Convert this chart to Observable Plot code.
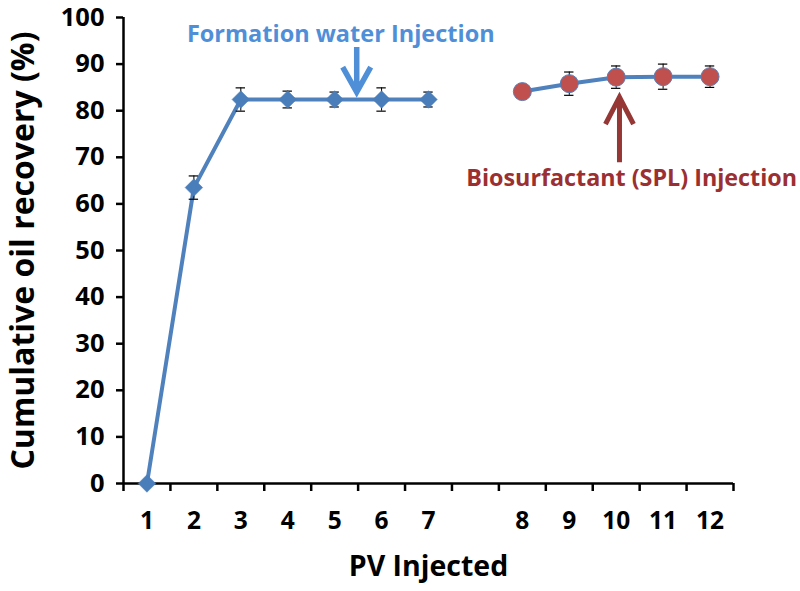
<!DOCTYPE html>
<html>
<head>
<meta charset="utf-8">
<script src="https://cdn.jsdelivr.net/npm/d3@7"></script>
<script src="https://cdn.jsdelivr.net/npm/@observablehq/plot@0.6"></script>
<style>
  html, body { margin: 0; padding: 0; background: #fff; }
  #chart { width: 800px; height: 591px; }
</style>
</head>
<body>
<div id="chart"></div>
<script>
// Category slots on the x axis (blank slot separates the two injection stages)
const xLabels = ["1", "2", "3", "4", "5", "6", "7", "", "8", "9", "10", "11", "12"];
// Pore volumes injected
const pv = [1, 2, 3, 4, 5, 6, 7, 8, 9, 10, 11, 12];
// Cumulative oil recovery (%)
const recovery = [0, 63.5, 82.4, 82.4, 82.4, 82.4, 82.4, 84.1, 85.8, 87.2, 87.3, 87.3];
// Error (± %)
const errors = [0, 2.5, 2.5, 1.8, 1.6, 2.5, 1.6, 0, 2.5, 2.4, 2.7, 2.3];
// Injection stage of each point
const stage = ["water", "water", "water", "water", "water", "water", "water", "SPL", "SPL", "SPL", "SPL", "SPL"];
const yTicks = [0, 10, 20, 30, 40, 50, 60, 70, 80, 90, 100];

const xTitle = "PV Injected";
const yTitle = "Cumulative oil recovery (%)";
const waterLabel = "Formation water Injection";
const splLabel = "Biosurfactant (SPL) Injection";
// annotation anchors in data units (slot, %)
const waterNote = {x: 5.13, y: 96.4, arrowX: 5.47, arrowTip: 84.0};
const splNote = {x: 11.33, y: 65.4, arrowX: 11.07, arrowTip: 82.9};

const data = pv.map((p, i) => ({
  slot: xLabels.indexOf(String(p)) + 1,
  y: recovery[i],
  err: errors[i],
  stage: stage[i]
}));
const withErr = data.filter(d => d.err > 0);
const slots = xLabels.map((l, i) => i + 1).filter(s => xLabels[s - 1] !== "");
const bounds = d3.range(0.5, xLabels.length + 1, 1);

const blueLine = "#4F81BD";
const blueText = "#4F8FD8";
const redText = "#9B2F31";

function chevron(back, half) {
  return {
    draw(context, l) {
      context.moveTo(0, 0);
      context.lineTo(0, -l + 2);
      context.moveTo(-half, -l + back);
      context.lineTo(0, -l);
      context.lineTo(half, -l + back);
    }
  };
}

const chart = Plot.plot({
  width: 800,
  height: 591,
  marginLeft: 123,
  marginRight: 67,
  marginTop: 17,
  marginBottom: 108,
  style: {fontFamily: "'Open Sans', Lato, sans-serif", fontWeight: "bold", fontSize: "25px", color: "#000", background: "#fff"},
  x: {type: "linear", domain: [0.5, xLabels.length + 0.5]},
  y: {domain: [0, 100]},
  marks: [
    Plot.axisY({ticks: yTicks, tickSize: 7, tickPadding: 12, strokeWidth: 2.5, label: null, fontSize: 25.5}),
    Plot.axisX({ticks: bounds, tickFormat: () => "", tickSize: 8, strokeWidth: 2.5, label: null}),
    Plot.axisX({ticks: slots, tickFormat: s => xLabels[s - 1], tickSize: 0, tickPadding: 28, label: null, fontSize: 24.5}),
    Plot.ruleX([0.5], {stroke: "#000", strokeWidth: 2.5}),
    Plot.ruleY([0], {stroke: "#000", strokeWidth: 2.5}),
    Plot.line(data, {x: "slot", y: "y", z: "stage", stroke: blueLine, strokeWidth: 4}),
    Plot.ruleX(withErr, {x: "slot", y1: d => d.y - d.err, y2: d => d.y + d.err, stroke: "#000", strokeWidth: 1}),
    Plot.ruleY(withErr, {y: d => d.y - d.err, x1: d => d.slot - 0.1, x2: d => d.slot + 0.1, stroke: "#000", strokeWidth: 1.2}),
    Plot.ruleY(withErr, {y: d => d.y + d.err, x1: d => d.slot - 0.1, x2: d => d.slot + 0.1, stroke: "#000", strokeWidth: 1.2}),
    Plot.dot(data.filter(d => d.stage === "water"), {x: "slot", y: "y", symbol: "square", rotate: 45, r: 7, fill: "#4A7EBB", stroke: "#4A7EBB", strokeWidth: 0.5}),
    Plot.dot(data.filter(d => d.stage === "SPL"), {x: "slot", y: "y", r: 9, fill: "#C0504D", stroke: "#5B7DB5", strokeWidth: 1}),
    Plot.text([waterLabel], {x: waterNote.x, y: waterNote.y, fill: blueText, fontSize: 23.5, fontWeight: "bold"}),
    Plot.vector([waterNote], {x: "arrowX", y: "arrowTip", length: 45, rotate: 180, anchor: "end", shape: chevron(25, 14), stroke: blueText, strokeWidth: 5.5, strokeLinejoin: "miter", strokeLinecap: "butt"}),
    Plot.text([splLabel], {x: splNote.x, y: splNote.y, fill: redText, fontSize: 23.3, fontWeight: "bold"}),
    Plot.vector([splNote], {x: "arrowX", y: "arrowTip", length: 65, rotate: 0, anchor: "end", shape: chevron(27, 14), stroke: "#953735", strokeWidth: 5, strokeLinejoin: "miter", strokeLinecap: "butt"}),
    Plot.text([xTitle], {frameAnchor: "bottom", dy: 92, fontSize: 28.5, fontWeight: "bold", fill: "#000"}),
    Plot.text([yTitle], {frameAnchor: "left", dx: -100, rotate: -90, textAnchor: "middle", fontSize: 32, fontWeight: "bold", fill: "#000"})
  ]
});
document.getElementById("chart").appendChild(chart);
</script>
</body>
</html>
